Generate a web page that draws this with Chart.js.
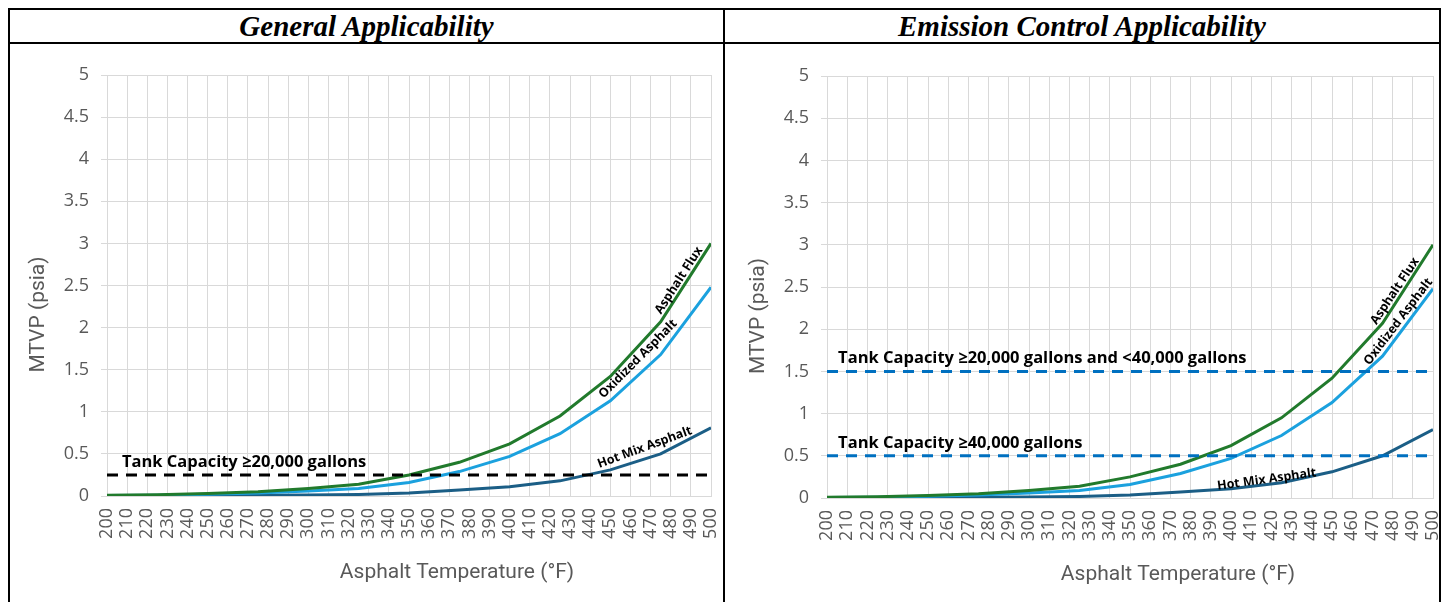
<!DOCTYPE html>
<html>
<head>
<meta charset="utf-8">
<title>MTVP vs Asphalt Temperature</title>
<script src="https://cdn.jsdelivr.net/npm/chart.js@4.4.1/dist/chart.umd.min.js"></script>
<style>
  html, body { margin: 0; padding: 0; background: #fff; }
  #page { position: relative; width: 1449px; height: 602px; overflow: hidden; }
  .rule { position: absolute; background: #000; }
  .head {
    position: absolute; top: 10px; height: 32px; line-height: 38px; text-align: center;
    font: italic bold 29px "Liberation Serif", "Times New Roman", serif; color: #000;
  }
  .panel { position: absolute; top: 45px; height: 557px; }
</style>
</head>
<body>
<div id="page">
  <div class="rule" style="left:8px;top:8px;width:1433px;height:2px"></div>
  <div class="rule" style="left:8px;top:42px;width:1433px;height:2px"></div>
  <div class="rule" style="left:8px;top:8px;width:2px;height:594px"></div>
  <div class="rule" style="left:723px;top:8px;width:2px;height:594px"></div>
  <div class="rule" style="left:1439px;top:8px;width:2px;height:594px"></div>

  <div class="head" style="left:10px;width:713px">General Applicability</div>
  <div class="head" style="left:725px;width:714px">Emission Control Applicability</div>

  <div class="panel" style="left:10px;width:713px"><canvas id="general"></canvas></div>
  <div class="panel" style="left:725px;width:714px"><canvas id="emission"></canvas></div>
</div>

<script>
// ---- data ----
const temps = [200, 225, 250, 275, 300, 325, 350, 375, 400, 425, 450, 475, 500];
const asphaltFlux     = [0.01, 0.015, 0.03, 0.05, 0.09, 0.14, 0.25, 0.40, 0.62, 0.95, 1.42, 2.07, 3.00];
const oxidizedAsphalt = [0.005, 0.01, 0.02, 0.035, 0.06, 0.09, 0.16, 0.29, 0.47, 0.74, 1.13, 1.68, 2.48];
const hotMixAsphalt   = [0.002, 0.003, 0.005, 0.008, 0.012, 0.018, 0.035, 0.07, 0.11, 0.18, 0.31, 0.50, 0.81];

const seriesNames = ['Asphalt Flux', 'Oxidized Asphalt', 'Hot Mix Asphalt'];
const seriesData = [asphaltFlux, oxidizedAsphalt, hotMixAsphalt];

const xTickValues = [200, 210, 220, 230, 240, 250, 260, 270, 280, 290, 300, 310, 320, 330, 340,
                     350, 360, 370, 380, 390, 400, 410, 420, 430, 440, 450, 460, 470, 480, 490, 500];
const yTickValues = [0, 0.25, 0.5, 0.75, 1, 1.25, 1.5, 1.75, 2, 2.25, 2.5, 2.75, 3, 3.25, 3.5,
                     3.75, 4, 4.25, 4.5, 4.75, 5];

const generalThresholds = [0.25];
const generalThresholdLabels = ['Tank Capacity ≥20,000 gallons'];
const emissionThresholds = [1.5, 0.5];
const emissionThresholdLabels = ['Tank Capacity ≥20,000 gallons and <40,000 gallons',
                                 'Tank Capacity ≥40,000 gallons'];

// temperature at which each curve gets its inline label
const generalLabelAt = [487, 468, 469];
const emissionLabelAt = [484, 486, 418];

// ---- styles ----
const seriesColors = ['#217A2C', '#1BA1DE', '#1B5E86'];
const gridColor = '#D9D9D9';
const textGray = '#595959';
const tickFont = { family: '"Open Sans", Roboto, sans-serif', size: 18 };

const isMajor = v => Math.abs(v * 2 - Math.round(v * 2)) < 1e-9;

function valueAt(vals, t) {
  if (t <= temps[0]) return vals[0];
  for (let k = 1; k < temps.length; k++) {
    if (t <= temps[k]) {
      const f = (t - temps[k - 1]) / (temps[k] - temps[k - 1]);
      return vals[k - 1] + f * (vals[k] - vals[k - 1]);
    }
  }
  return vals[vals.length - 1];
}

// inline captions, curve labels and axis titles
const panelText = {
  id: 'panelText',
  afterDatasetsDraw(chart, args, opts) {
    const { ctx, chartArea: a, scales: { x, y } } = chart;
    const px = (t, v) => ({ x: x.getPixelForValue(t), y: y.getPixelForValue(v) });
    ctx.save();

    ctx.fillStyle = '#000';
    ctx.font = '700 16.5px "Open Sans", sans-serif';
    ctx.textAlign = 'left';
    ctx.textBaseline = 'alphabetic';
    opts.thresholds.forEach((v, i) => {
      ctx.fillText(opts.thresholdLabels[i], x.getPixelForValue(opts.captionX), y.getPixelForValue(v) - 8);
    });

    ctx.font = '700 12.5px "Open Sans", sans-serif';
    ctx.textAlign = 'center';
    ctx.textBaseline = 'middle';
    opts.labelAt.forEach((t, i) => {
      const vals = seriesData[i];
      const t0 = Math.max(temps[0], t - 12), t1 = Math.min(temps[temps.length - 1], t + 12);
      const p0 = px(t0, valueAt(vals, t0)), p1 = px(t1, valueAt(vals, t1));
      const p = px(t, valueAt(vals, t));
      const ang = Math.atan2(p1.y - p0.y, p1.x - p0.x);
      const d = opts.labelOffset[i];
      ctx.save();
      ctx.translate(p.x + Math.sin(ang) * d, p.y - Math.cos(ang) * d);
      ctx.rotate(ang);
      ctx.fillText(seriesNames[i], 0, 0);
      ctx.restore();
    });

    ctx.fillStyle = textGray;
    ctx.font = '21px Roboto, sans-serif';
    ctx.save();
    ctx.translate(a.left - 68, (a.top + a.bottom) / 2 + 29);
    ctx.rotate(-Math.PI / 2);
    ctx.fillText('MTVP (psia)', 0, 0);
    ctx.restore();
    ctx.fillText('Asphalt Temperature (°F)', (a.left + a.right) / 2 + 48, a.bottom + 77);

    ctx.restore();
  }
};

function makePanel(id, p) {
  const datasets = [];
  p.thresholds.forEach(v => datasets.push({
    data: [{ x: xTickValues[0], y: v }, { x: xTickValues[xTickValues.length - 1], y: v }],
    borderColor: p.dashColor,
    borderWidth: 3,
    borderDash: [11, 8],
    pointRadius: 0,
    order: 0
  }));
  seriesData.forEach((vals, i) => datasets.push({
    label: seriesNames[i],
    data: temps.map((t, k) => ({ x: t, y: vals[k] })),
    borderColor: seriesColors[i],
    borderWidth: 3,
    pointRadius: 0,
    tension: 0,
    order: i + 1
  }));

  return new Chart(document.getElementById(id), {
    type: 'line',
    data: { datasets },
    options: {
      responsive: true,
      maintainAspectRatio: false,
      animation: false,
      layout: { padding: { top: p.top, right: p.right, left: 0, bottom: 0 } },
      plugins: {
        legend: { display: false },
        tooltip: { enabled: false },
        panelText: {
          thresholds: p.thresholds,
          thresholdLabels: p.thresholdLabels,
          captionX: p.captionX,
          labelAt: p.labelAt,
          labelOffset: p.labelOffset
        }
      },
      scales: {
        x: {
          type: 'linear',
          min: xTickValues[0],
          max: xTickValues[xTickValues.length - 1],
          afterBuildTicks: s => { s.ticks = xTickValues.map(v => ({ value: v })); },
          afterFit: s => { s.height = p.bottom; s.paddingLeft = 0; s.paddingRight = 0; },
          ticks: {
            autoSkip: false, minRotation: 90, maxRotation: 90,
            color: textGray, font: tickFont, padding: 12,
            callback: v => String(v)
          },
          grid: { color: gridColor, drawTicks: false },
          border: { color: gridColor }
        },
        y: {
          min: 0,
          max: 5,
          afterBuildTicks: s => { s.ticks = yTickValues.map(v => ({ value: v })); },
          afterFit: s => { s.width = p.left; },
          ticks: {
            color: textGray, font: tickFont, padding: 12,
            callback: v => isMajor(v) ? String(v) : ''
          },
          grid: {
            color: c => (c.tick && isMajor(c.tick.value)) ? gridColor : 'rgba(0,0,0,0)',
            tickColor: gridColor,
            tickLength: 6
          },
          border: { color: gridColor }
        }
      }
    },
    plugins: [panelText]
  });
}

makePanel('general', {
  thresholds: generalThresholds,
  thresholdLabels: generalThresholdLabels,
  dashColor: '#000000',
  captionX: 207.4,
  labelAt: generalLabelAt,
  labelOffset: [7, 12, 11],
  top: 30, right: 12, left: 97, bottom: 106
});

makePanel('emission', {
  thresholds: emissionThresholds,
  thresholdLabels: emissionThresholdLabels,
  dashColor: '#0070C0',
  captionX: 205.5,
  labelAt: emissionLabelAt,
  labelOffset: [7, 8, 5],
  top: 31, right: 6, left: 102, bottom: 104
});
</script>
</body>
</html>
